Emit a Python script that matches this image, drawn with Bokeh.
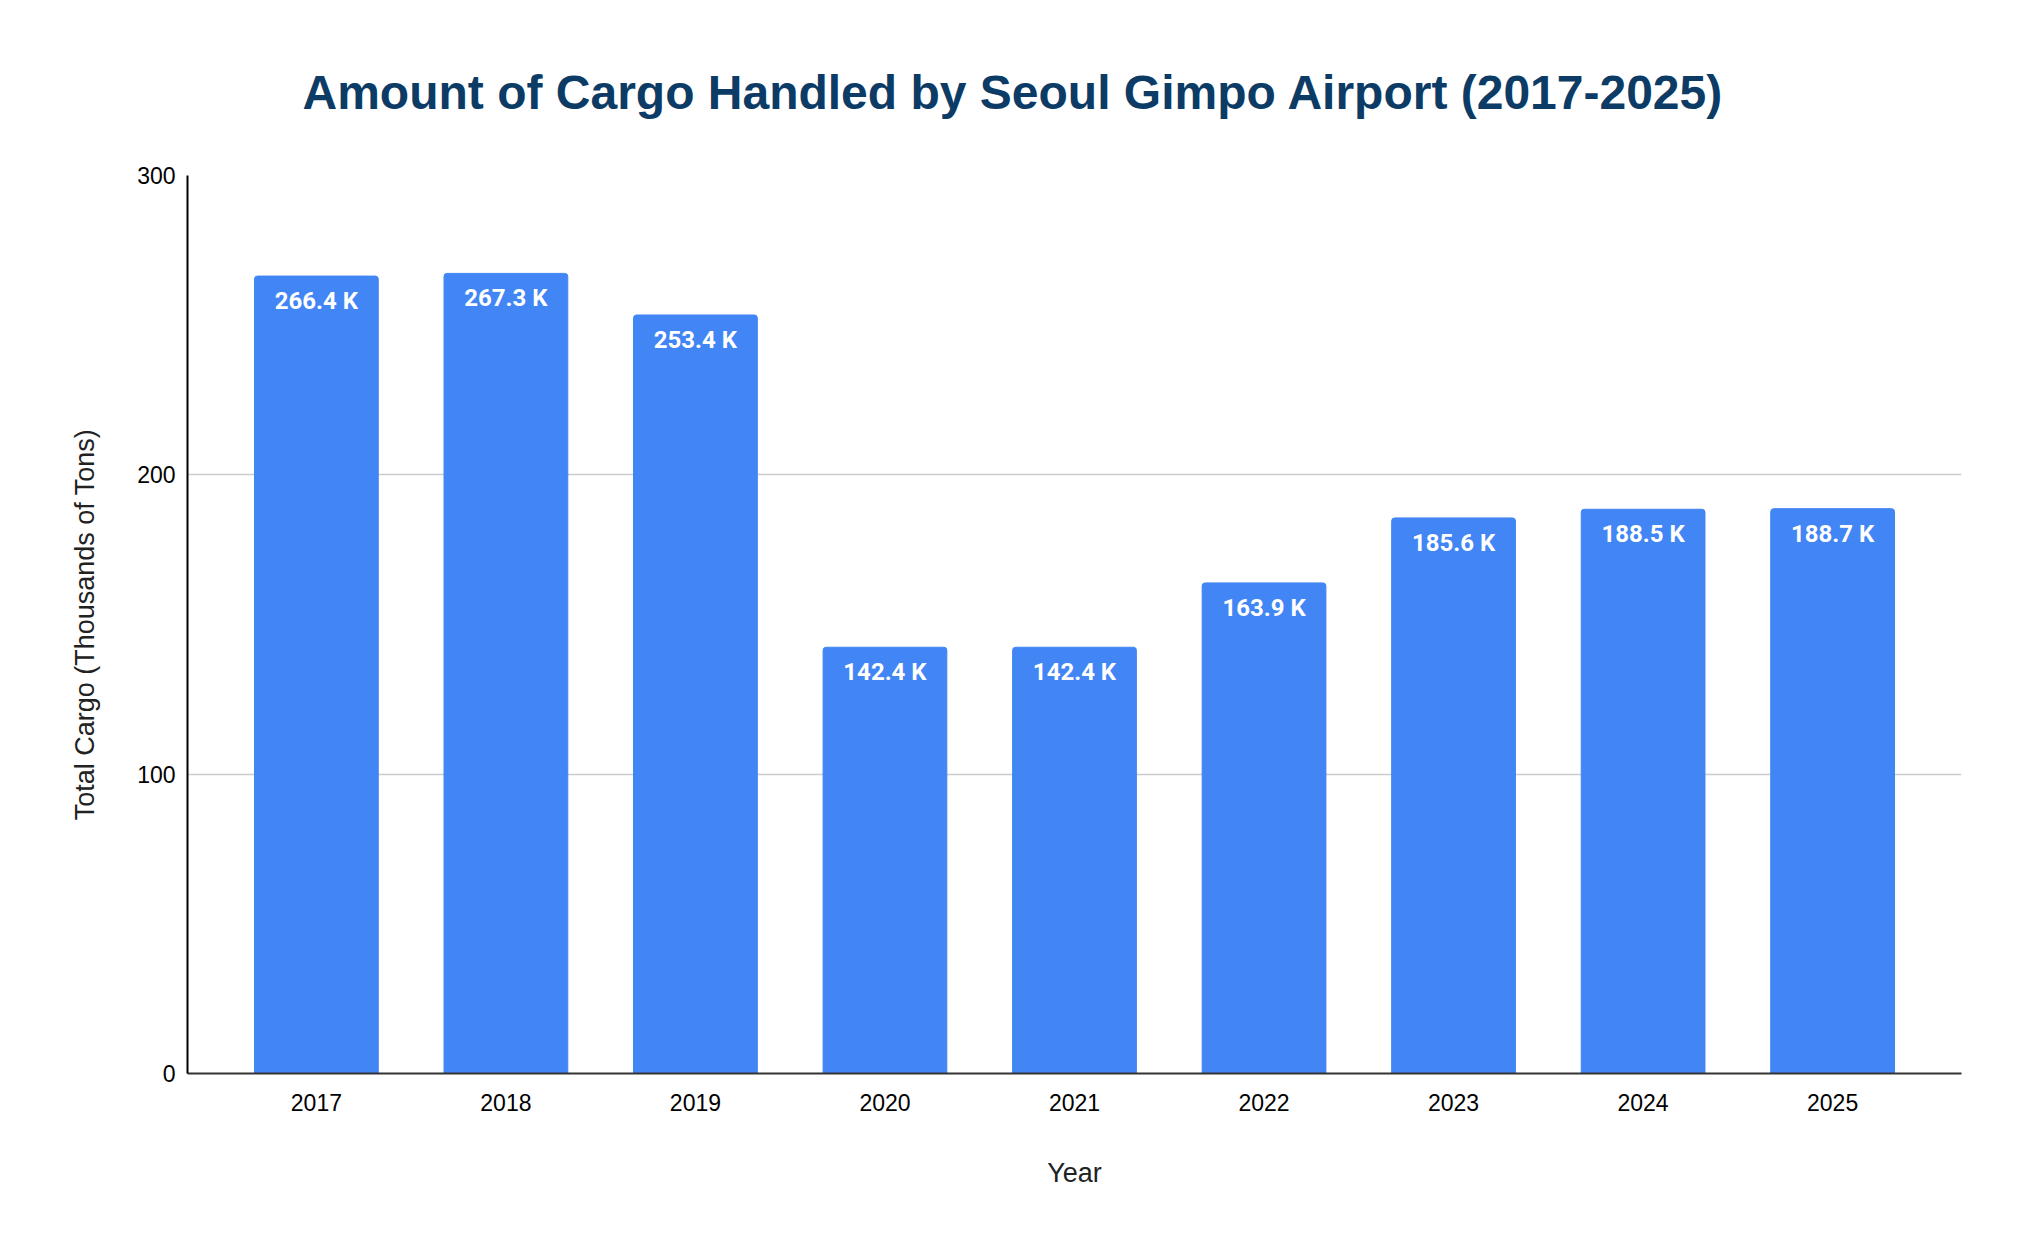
from bokeh.plotting import figure
from bokeh.models import ColumnDataSource, FixedTicker, FactorRange, Range1d, Title
from bokeh.embed import file_html
from bokeh.resources import INLINE
from bokeh.core.properties import value

years = ['2017', '2018', '2019', '2020', '2021', '2022', '2023', '2024', '2025']
cargo = [266.4, 267.3, 253.4, 142.4, 142.4, 163.9, 185.6, 188.5, 188.7]
labels = [f"{v:.1f} K" for v in cargo]

source = ColumnDataSource(data=dict(year=years, cargo=cargo, label=labels))

p = figure(x_range=FactorRange(*years, range_padding=0.18, range_padding_units="absolute"),
           y_range=Range1d(0, 300),
           width=2008, height=1234, toolbar_location=None, output_backend="svg",
           min_border_left=187, min_border_right=47, min_border_top=175, min_border_bottom=161)

p.vbar(x='year', top='cargo', width=0.653, source=source, color='#4285f4',
       border_radius=(3, 3, 0, 0))
p.text(x='year', y='cargo', text='label', source=source, y_offset=25,
       text_align='center', text_baseline='middle', text_color='white',
       text_font=value("Roboto"), text_font_style='bold', text_font_size='24px')

# title, placed to sit centred on the whole page
t = Title(text="Amount of Cargo Handled by Seoul Gimpo Airport (2017-2025)", align='left',
          text_font='Liberation Sans', text_font_size='48px', text_font_style='bold',
          text_color='#0c3b66', offset=115, standoff=114)
p.add_layout(t, 'above')

p.outline_line_color = None
p.xgrid.grid_line_color = None
p.ygrid.grid_line_color = '#cccccc'
p.ygrid.grid_line_width = 1.3

p.yaxis.ticker = FixedTicker(ticks=[0, 100, 200, 300])
p.yaxis.axis_label = 'Total Cargo (Thousands of Tons)'
p.xaxis.axis_label = 'Year'
for ax in (p.xaxis[0], p.yaxis[0]):
    ax.major_tick_line_color = None
    ax.minor_tick_line_color = None
    ax.axis_label_text_font = 'Liberation Sans'
    ax.axis_label_text_font_style = 'normal'
    ax.axis_label_text_color = '#222222'
    ax.major_label_text_font = 'Liberation Sans'
    ax.major_label_text_color = '#000000'
    ax.axis_line_width = 2

p.yaxis.axis_line_color = '#000000'
p.xaxis.axis_line_color = '#333333'
p.yaxis.axis_label_text_font_size = '27px'
p.yaxis.major_label_text_font_size = '23px'
p.yaxis.major_label_standoff = 6
p.yaxis.axis_label_standoff = 34
p.xaxis.axis_label_text_font_size = '27px'
p.xaxis.major_label_text_font_size = '23px'
p.xaxis.major_label_standoff = 14
p.xaxis.axis_label_standoff = 44

open("out.html", "w").write(file_html(p, INLINE))
